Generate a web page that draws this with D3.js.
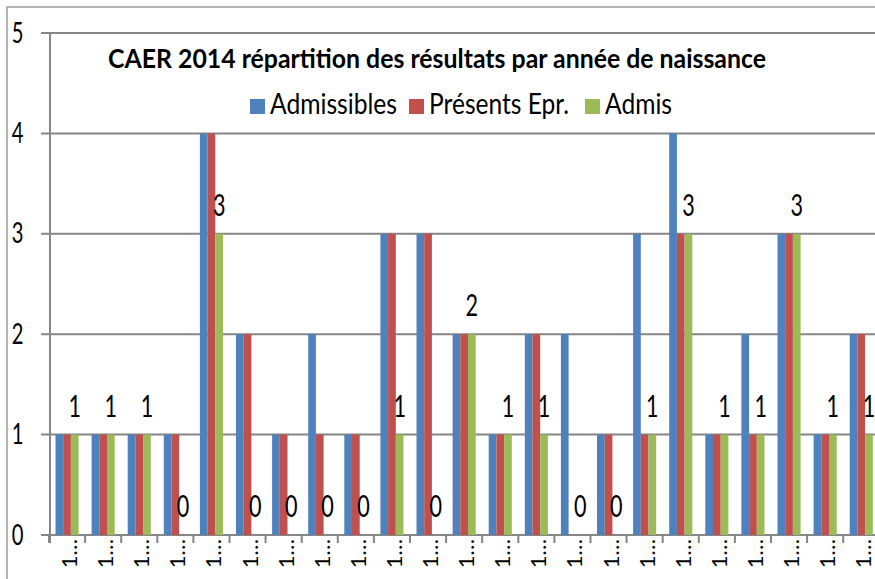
<!DOCTYPE html>
<html>
<head>
<meta charset="utf-8">
<script src="https://cdnjs.cloudflare.com/ajax/libs/d3/7.8.5/d3.min.js"></script>
<style>
    body { margin: 0; background: #fff; }
    svg text { font-family: Lato, "Open Sans", sans-serif; fill: #000; }
</style>
</head>
<body>
<div id="chart"></div>
<script>
// chart values (birth years are cut to "1…" in the source)
var categories = ['1…','1…','1…','1…','1…','1…','1…','1…','1…','1…','1…','1…',
                  '1…','1…','1…','1…','1…','1…','1…','1…','1…','1…','1…'];
var series = ['Admissibles', 'Présents Epr.', 'Admis'];
var admissibles = [1, 1, 1, 1, 4, 2, 1, 2, 1, 3, 3, 2, 1, 2, 2, 1, 3, 4, 1, 2, 3, 1, 2];
var presents    = [1, 1, 1, 1, 4, 2, 1, 1, 1, 3, 3, 2, 1, 2, 0, 1, 1, 3, 1, 1, 3, 1, 2];
var admis       = [1, 1, 1, 0, 3, 0, 0, 0, 0, 1, 0, 2, 1, 1, 0, 0, 1, 3, 1, 1, 3, 1, 1];
var y_ticks = [0, 1, 2, 3, 4, 5];
var title = 'CAER 2014 répartition des résultats par année de naissance';

var chart = (function(){
    var WIDTH = 875, HEIGHT = 579,
        PLOT_LEFT = 49, STEP = 36.1,
        GRID_COLOR = '#868686',
        COLORS = ['#4F81BD', '#C0504D', '#9BBB59'];

    var svg, x, x_sub, y;

    function values_of( s){
        return [admissibles, presents, admis][series.indexOf( s)];
    }

    function draw_frame(){
        /*
            outer chart border, cropped on the right and bottom
         */
        svg.append( 'path')
            .attr( 'd', 'M7,' + HEIGHT + 'V7H' + WIDTH)
            .attr( 'fill', 'none')
            .attr( 'stroke', '#9a9a9a')
            .attr( 'stroke-width', 1.5);
    }

    function draw_axes(){
        var grid = svg.append( 'g').attr( 'class', 'grid');
        grid.selectAll( 'line')
            .data( y_ticks).enter()
            .append( 'line')
            .attr( 'x1', PLOT_LEFT - 8)
            .attr( 'x2', WIDTH)
            .attr( 'y1', function( d){ return y( d);})
            .attr( 'y2', function( d){ return y( d);})
            .attr( 'stroke', GRID_COLOR)
            .attr( 'stroke-width', 2);

        // y axis line + labels
        var y_axis = svg.append( 'g')
            .attr( 'transform', 'translate(' + (PLOT_LEFT + 1) + ',0)')
            .call( d3.axisLeft( y).tickValues( y_ticks).tickFormat( d3.format( 'd')).tickSize( 0).tickPadding( 0));
        y_axis.select( '.domain').remove();
        y_axis.append( 'line')
            .attr( 'y1', y( 5)).attr( 'y2', y( 0) + 8)
            .attr( 'stroke', GRID_COLOR).attr( 'stroke-width', 2);
        y_axis.selectAll( '.tick text')
            .attr( 'x', null).attr( 'dy', null)
            .attr( 'text-anchor', 'middle')
            .attr( 'y', 9)
            .attr( 'transform', 'translate(-32.5,0) scale(0.72,1)')
            .style( 'font-size', '28px')
            .attr( 'fill', '#000');

        // category ticks below the axis
        var bounds = d3.range( categories.length + 1);
        svg.append( 'g').selectAll( 'line')
            .data( bounds).enter()
            .append( 'line')
            .attr( 'x1', function( i){ return PLOT_LEFT + i * x.step();})
            .attr( 'x2', function( i){ return PLOT_LEFT + i * x.step();})
            .attr( 'y1', y( 0))
            .attr( 'y2', y( 0) + 8)
            .attr( 'stroke', GRID_COLOR)
            .attr( 'stroke-width', 2);

        // category labels, rotated
        svg.append( 'g').selectAll( 'text')
            .data( d3.range( categories.length)).enter()
            .append( 'text')
            .attr( 'transform', function( i){
                return 'translate(' + (x( i) + x.bandwidth() / 2 + 10) + ',' + (y( 0) + 4) + ') rotate(-90)';
            })
            .attr( 'text-anchor', 'end')
            .style( 'font-size', '22px')
            .text( function( i){ return categories[i];});
    }

    function draw_bars(){
        var groups = svg.append( 'g').attr( 'class', 'bars')
            .selectAll( 'g')
            .data( series).enter()
            .append( 'g')
            .attr( 'fill', function( s, k){ return COLORS[k];});

        groups.selectAll( 'rect')
            .data( function( s){ return values_of( s).map( function( v, i){ return { s: s, i: i, v: v};});})
            .enter().append( 'rect')
            .attr( 'x', function( d){ return x( d.i) + x_sub( d.s);})
            .attr( 'y', function( d){ return y( d.v);})
            .attr( 'width', x_sub.bandwidth())
            .attr( 'height', function( d){ return y( 0) - y( d.v);});

        // labels only on the Admis series
        svg.append( 'g').selectAll( 'text')
            .data( admis).enter()
            .append( 'text')
            .attr( 'transform', function( v, i){
                return 'translate(' + (x( i) + x_sub( 'Admis') + x_sub.bandwidth() / 2) + ',' + (y( v) - 18) + ') scale(0.72,1)';
            })
            .attr( 'text-anchor', 'middle')
            .style( 'font-size', '30px')
            .text( function( v){ return v;});
    }

    function draw_title(){
        svg.append( 'text')
            .attr( 'x', 108).attr( 'y', 68)
            .attr( 'textLength', 658)
            .attr( 'lengthAdjust', 'spacingAndGlyphs')
            .style( 'font-size', '27px')
            .style( 'font-weight', 'bold')
            .text( title);

        var legend_x = [250, 409, 585],
            legend_w = [127, 140, 67];
        var items = svg.append( 'g').selectAll( 'g')
            .data( series).enter()
            .append( 'g')
            .attr( 'transform', function( s, k){ return 'translate(' + legend_x[k] + ',99)';});
        items.append( 'rect')
            .attr( 'width', 15).attr( 'height', 15)
            .attr( 'fill', function( s, k){ return COLORS[k];});
        items.append( 'text')
            .attr( 'x', 20).attr( 'y', 14.5)
            .attr( 'textLength', function( s, k){ return legend_w[k];})
            .attr( 'lengthAdjust', 'spacingAndGlyphs')
            .style( 'font-size', '28px')
            .text( function( s){ return s;});
    }

    function initialize(){
        svg = d3.select( '#chart').append( 'svg')
            .attr( 'width', WIDTH)
            .attr( 'height', HEIGHT);

        x = d3.scaleBand()
            .domain( d3.range( categories.length))
            .range( [PLOT_LEFT, PLOT_LEFT + STEP * categories.length]);
        x_sub = d3.scaleBand()
            .domain( series)
            .range( [6.5, 29.6]);
        y = d3.scaleLinear()
            .domain( [0, 5])
            .range( [535, 33]);

        draw_frame();
        draw_axes();
        draw_bars();
        draw_title();
    }

    return { initialize: initialize };
})();

chart.initialize();
</script>
</body>
</html>
